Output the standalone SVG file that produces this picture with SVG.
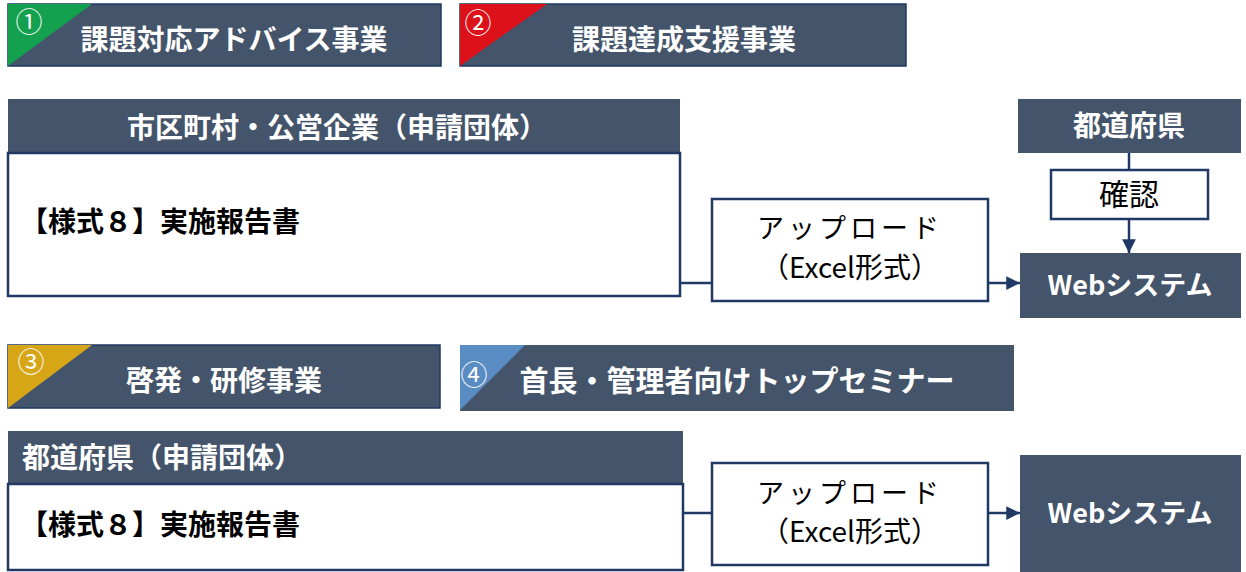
<svg xmlns="http://www.w3.org/2000/svg" width="1246" height="572" viewBox="0 0 1246 572">
<style>
.dark{fill:#44546a;}
.darkb{fill:#44546a;stroke:#1f3864;stroke-width:1.5;}
.wbox{fill:#ffffff;stroke:#1f3864;stroke-width:2.5;}
.t{font-family:"Noto Sans CJK JP","Noto Sans",sans-serif;}
.wb{fill:#ffffff;font-weight:bold;}
.bb{fill:#000000;font-weight:bold;}
.bn{fill:#000000;font-weight:normal;}
.num{fill:#ffffff;font-size:27px;}
.conn{stroke:#1f3864;stroke-width:2.5;fill:none;}
</style>
<defs>
<marker id="ah" viewBox="0 0 10 10" refX="10" refY="5" markerWidth="5.5" markerHeight="5.5" markerUnits="strokeWidth" orient="auto">
<path d="M0,0 L10,5 L0,10 z" fill="#1f3864"/>
</marker>
</defs>

<g id="title1">
<rect class="darkb" x="8" y="4" width="433" height="62"/>
<polygon points="8,4 92,4 8,66" fill="#13a04f"/>
<text class="t num" x="29" y="32" text-anchor="middle">①</text>
<text class="t wb" x="234" y="50" font-size="28" text-anchor="middle">課題対応アドバイス事業</text>
</g>

<g id="title2">
<rect class="darkb" x="460" y="4" width="446" height="62"/>
<polygon points="460,4 547,4 460,66" fill="#dc111a"/>
<text class="t num" x="478" y="33" text-anchor="middle">②</text>
<text class="t wb" x="684" y="50" font-size="28" text-anchor="middle">課題達成支援事業</text>
</g>

<g id="applicant1">
<rect class="dark" x="8" y="99" width="672" height="54"/>
<text class="t wb" x="337" y="138" font-size="28" text-anchor="middle">市区町村・公営企業（申請団体）</text>
<rect class="wbox" x="8" y="153" width="672" height="143"/>
<text class="t bb" x="20" y="232" font-size="28">【様式８】実施報告書</text>
</g>

<g id="upload1">
<rect class="wbox" x="712" y="199" width="276" height="102"/>
<text class="t bn" x="850" y="238" font-size="27" letter-spacing="4" text-anchor="middle">アップロード</text>
<text class="t bn" x="850" y="278" font-size="28" text-anchor="middle">（Excel形式）</text>
</g>

<g id="pref1">
<rect class="dark" x="1018" y="99" width="223" height="54"/>
<text class="t wb" x="1129" y="136" font-size="28" text-anchor="middle">都道府県</text>
</g>

<g id="confirm">
<rect class="wbox" x="1051" y="170" width="157" height="49"/>
<text class="t bn" x="1129" y="205" font-size="30" text-anchor="middle">確認</text>
</g>

<g id="web1">
<rect class="dark" x="1020" y="253" width="221" height="65"/>
<text class="t wb" x="1130" y="295" font-size="27" text-anchor="middle">Webシステム</text>
</g>

<g id="title3">
<rect class="darkb" x="8" y="345" width="432" height="63"/>
<polygon points="8,345 92,345 8,408" fill="#d6a617"/>
<text class="t num" x="31" y="372" text-anchor="middle">③</text>
<text class="t wb" x="224" y="391" font-size="28" text-anchor="middle">啓発・研修事業</text>
</g>

<g id="title4">
<rect class="dark" x="460" y="345" width="554" height="66"/>
<polygon points="460,345 525,345 460,410" fill="#5a8cc4"/>
<text class="t num" x="474" y="385" text-anchor="middle">④</text>
<text class="t wb" x="737" y="392" font-size="29" text-anchor="middle">首長・管理者向けトップセミナー</text>
</g>

<g id="applicant2">
<rect class="dark" x="8" y="431" width="675" height="53"/>
<text class="t wb" x="22" y="468" font-size="28">都道府県（申請団体）</text>
<rect class="wbox" x="8" y="484" width="675" height="86"/>
<text class="t bb" x="20" y="535" font-size="28">【様式８】実施報告書</text>
</g>

<g id="upload2">
<rect class="wbox" x="712" y="463" width="276" height="102"/>
<text class="t bn" x="850" y="503" font-size="27" letter-spacing="4" text-anchor="middle">アップロード</text>
<text class="t bn" x="850" y="542" font-size="28" text-anchor="middle">（Excel形式）</text>
</g>

<g id="web2">
<rect class="dark" x="1020" y="455" width="221" height="117"/>
<text class="t wb" x="1130" y="523" font-size="27" text-anchor="middle">Webシステム</text>
</g>

<g id="connectors">
<line class="conn" x1="680" y1="283" x2="712" y2="283"/>
<line class="conn" x1="988" y1="283" x2="1020" y2="283" marker-end="url(#ah)"/>
<line class="conn" x1="1129" y1="153" x2="1129" y2="170"/>
<line class="conn" x1="1129" y1="219" x2="1129" y2="253" marker-end="url(#ah)"/>
<line class="conn" x1="683" y1="513" x2="712" y2="513"/>
<line class="conn" x1="988" y1="513" x2="1020" y2="513" marker-end="url(#ah)"/>
</g>
</svg>
